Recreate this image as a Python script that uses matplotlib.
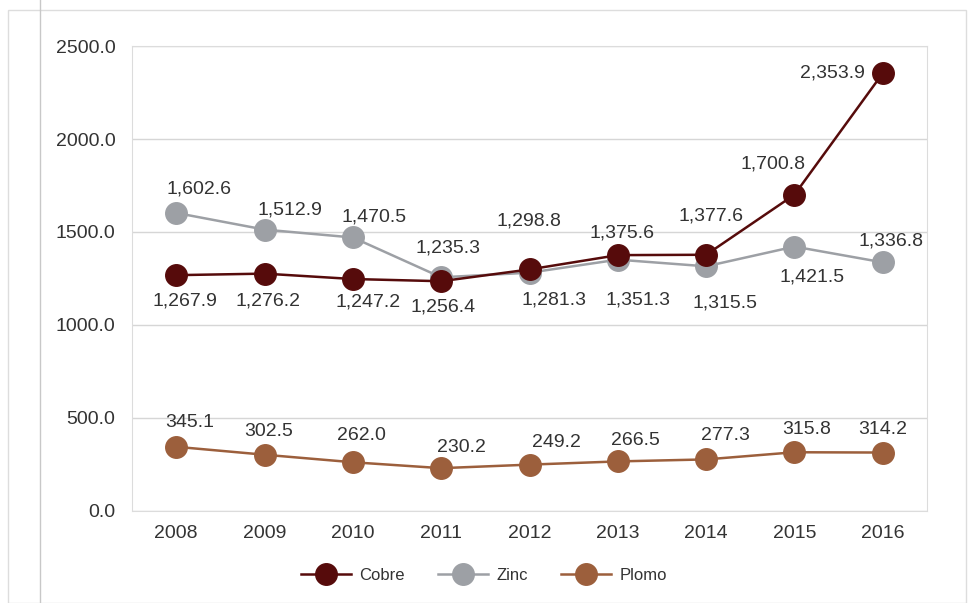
import matplotlib
matplotlib.use('Agg')
import matplotlib.pyplot as plt
from matplotlib.lines import Line2D
from matplotlib.patches import Rectangle

plt.rcParams['font.family'] = ['Liberation Sans', 'DejaVu Sans']

#Data
years = ['2008', '2009', '2010', '2011', '2012', '2013', '2014', '2015', '2016']
cobre = [1267.9, 1276.2, 1247.2, 1235.3, 1298.8, 1375.6, 1377.6, 1700.8, 2353.9]
zinc = [1602.6, 1512.9, 1470.5, 1256.4, 1281.3, 1351.3, 1315.5, 1421.5, 1336.8]
plomo = [345.1, 302.5, 262.0, 230.2, 249.2, 266.5, 277.3, 315.8, 314.2]
yticks = [0, 500, 1000, 1500, 2000, 2500]

# label offsets in pixels (dx, dy)
off_cobre = [(9, -26), (3, -27), (15, -23), (7, 33), (-1, 48), (4, 22), (5, 39), (-21, 31), (-50, 0)]
off_zinc = [(23, 24), (25, 20), (21, 20), (2, -30), (24, -27), (20, -40), (19, -37), (18, -30), (8, 21)]
off_plomo = [(14, 24), (4, 23), (9, 27), (20, 21), (27, 22), (18, 21), (19, 24), (12, 23), (0, 23)]

c_cobre = '#560b0b'
c_zinc = '#9da0a5'
c_plomo = '#9c5f3c'
txt = '#333333'

fig = plt.figure(figsize=(9.73, 6.03), dpi=100)
ax = fig.add_axes([0.1357, 0.1526, 0.817, 0.7711])

x = list(range(len(years)))
for vals, col, offs in [(plomo, c_plomo, off_plomo), (zinc, c_zinc, off_zinc), (cobre, c_cobre, off_cobre)]:
    ax.plot(x, vals, color=col, lw=1.8, marker='o', ms=15.5, mec=col, mfc=col, zorder=3)
    for xi, v, (dx, dy) in zip(x, vals, offs):
        ax.annotate('{:,.1f}'.format(v), (xi, v), xytext=(dx, dy), textcoords='offset pixels',
                    ha='center', va='center', fontsize=14, color=txt, zorder=4)

ax.set_xlim(-0.5, 8.5)
ax.set_ylim(0, 2500)
ax.set_xticks(x)
ax.set_xticklabels(years)
ax.set_yticks(yticks)
ax.set_yticklabels(['{:.1f}'.format(t) for t in yticks])
ax.tick_params(length=0, labelsize=14, labelcolor=txt)
ax.tick_params(axis='y', pad=12)
ax.tick_params(axis='x', pad=10)
ax.grid(axis='y', color='#d6d6d6', lw=1)
ax.set_axisbelow(True)
for s in ax.spines.values():
    s.set_color('#dcdcdc')

handles = [Line2D([], [], color=c, lw=1.8, marker='o', ms=15.5, mfc=c, mec=c) for c in [c_cobre, c_zinc, c_plomo]]
fig.legend(handles, ['Cobre', 'Zinc', 'Plomo'], loc='center', bbox_to_anchor=(484 / 973, 1 - 575 / 603),
           ncol=3, frameon=False, fontsize=12, handlelength=3.0, columnspacing=2.0,
           handletextpad=0.5, labelcolor=txt)

# page border from the scan
fig.patches.append(Rectangle((8 / 973, 0), 958 / 973, 1 - 10 / 603, transform=fig.transFigure,
                             fill=False, ec='#dddddd', lw=1))
fig.add_artist(Line2D([40 / 973, 40 / 973], [0, 1], transform=fig.transFigure, color='#c8c8c8', lw=1))

fig.savefig('out.png', dpi=100)
